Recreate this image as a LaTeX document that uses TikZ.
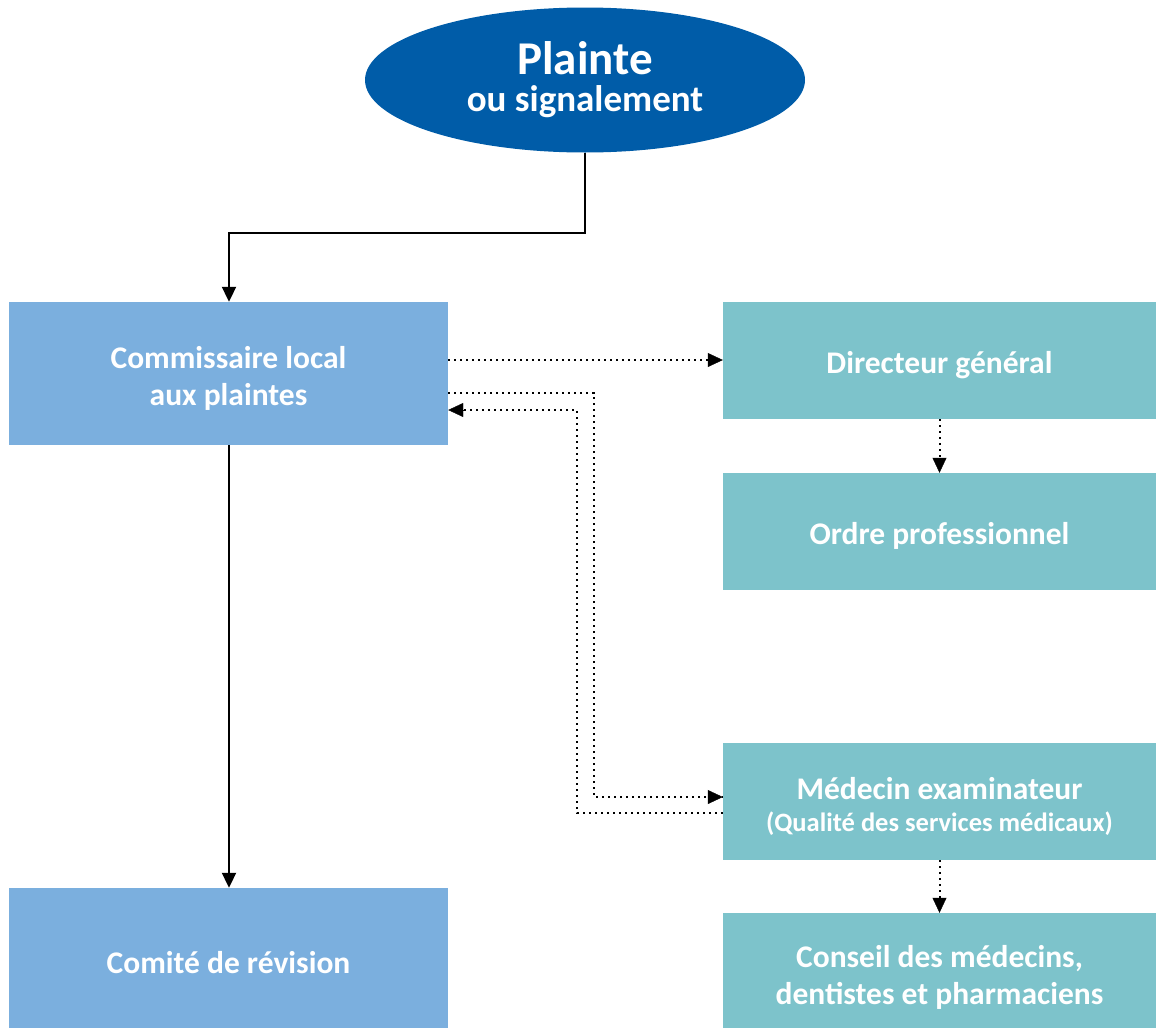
\documentclass[tikz,border=0pt]{standalone}
\usepackage{fontspec}
\setmainfont{Carlito}
\usetikzlibrary{arrows.meta,shapes.geometric}
\definecolor{darkblue}{RGB}{0,92,168}
\definecolor{lightblue}{RGB}{123,175,222}
\definecolor{teal}{RGB}{125,195,203}
\tikzset{
  x=1pt,y=1pt,
  boxtext/.style={inner sep=0pt,text=white,font=\bfseries\fontsize{31.5}{37}\selectfont,align=center},
  leftbox/.style={rectangle,inner sep=0pt,fill=lightblue,minimum width=439pt,minimum height=143pt},
  rightbox/.style={rectangle,inner sep=0pt,fill=teal,minimum width=433pt,minimum height=117pt},
  tip/.style={-{Triangle[length=15pt,width=14pt]}},
  solidline/.style={tip,line width=2pt},
  dotline/.style={line width=2pt,dash pattern=on 2pt off 4pt},
}
\begin{document}
\begin{tikzpicture}
\useasboundingbox (0,0) rectangle (1156,-1028);
% start of the procedure
\node[ellipse,fill=darkblue,minimum width=440pt,minimum height=145pt,inner sep=0pt,text=white,align=center,
      font=\bfseries\fontsize{37}{37}\selectfont] (plainte) at (585,-80)
  {{\fontsize{47}{37}\selectfont Plainte}\\ou signalement};
% local level
\node[leftbox] (commissaire) at (228.5,-373.5) {};
\node[leftbox,minimum height=140pt] (comite) at (228.5,-958) {};
% other instances
\node[rightbox] (directeur) at (939.5,-360.5) {};
\node[rightbox] (ordre) at (939.5,-531.5) {};
\node[rightbox] (medecin) at (939.5,-801.5) {};
\node[rightbox,minimum height=115pt] (conseil) at (939.5,-970.5) {};
% box labels
\node[boxtext] (commissaire-t) at ([yshift=-5pt]commissaire.center) {Commissaire local\\aux plaintes};
\node[boxtext] (comite-t) at ([yshift=-4.5pt]comite.center) {Comité de révision};
\node[boxtext] (directeur-t) at ([yshift=-4.5pt]directeur.center) {Directeur général};
\node[boxtext] (ordre-t) at ([yshift=-4.5pt]ordre.center) {Ordre professionnel};
\node[boxtext,font=\bfseries\fontsize{26.5}{32}\selectfont] (medecin-t) at ([yshift=-5pt]medecin.center)
  {{\fontsize{31.5}{32}\selectfont Médecin examinateur}\\(Qualité des services médicaux)};
\node[boxtext] (conseil-t) at ([yshift=-7pt]conseil.center) {Conseil des médecins,\\dentistes et pharmaciens};
% solid flow
\draw[solidline] (plainte.south) |- (229,-233) -- (commissaire.north -| 229,0);
\draw[solidline] (commissaire.south -| 229,0) -- (comite.north -| 229,0);
% dotted links
\draw[dotline] (commissaire.east |- 0,-360) -- (directeur.west |- 0,-360);
\draw[tip] ([xshift=-15pt]directeur.west |- 0,-360) -- (directeur.west |- 0,-360);
\draw[dotline] (commissaire.east |- 0,-393) -| (594,-797) -- (medecin.west |- 0,-797);
\draw[tip] ([xshift=-15pt]medecin.west |- 0,-797) -- (medecin.west |- 0,-797);
\draw[dotline] (medecin.west |- 0,-813) -| (577,-410) -- (commissaire.east |- 0,-410);
\draw[tip] ([xshift=15pt]commissaire.east |- 0,-410) -- (commissaire.east |- 0,-410);
\draw[dotline] (directeur.south) -- (ordre.north);
\draw[tip] ([yshift=15pt]ordre.north) -- (ordre.north);
\draw[dotline] (medecin.south) -- (conseil.north);
\draw[tip] ([yshift=15pt]conseil.north) -- (conseil.north);
\end{tikzpicture}
\end{document}
